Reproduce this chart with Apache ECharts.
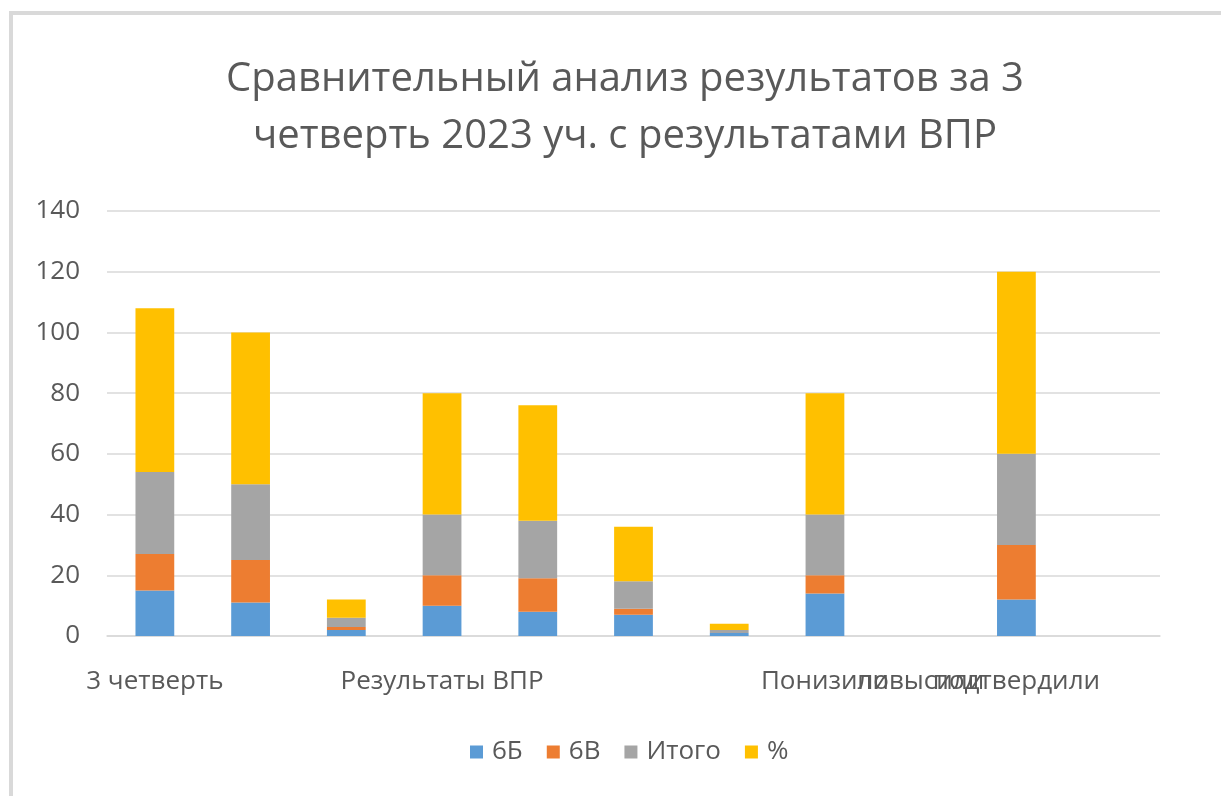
<!DOCTYPE html>
<html>
<head>
<meta charset="utf-8">
<script src="https://cdn.jsdelivr.net/npm/echarts@6/dist/echarts.min.js"></script>
<style>
  html, body { margin: 0; padding: 0; background: #ffffff; }
  #frame {
    position: absolute; left: 9px; top: 11px; right: 0; bottom: 0;
    border-top: 4px solid #d9d9d9; border-left: 4px solid #d9d9d9;
    pointer-events: none;
  }
  #chart { position: absolute; left: 0; top: 0; width: 1221px; height: 796px; }
</style>
</head>
<body>
<div id="chart"></div>
<div id="frame"></div>
<script>
// Categories along the x axis (unnamed columns stay blank)
const categories = ['3 четверть', '', '', 'Результаты ВПР', '', '', '', 'Понизили', 'повысили', 'подтвердили', ''];

// Stacked series values per category
const class6B = [15, 11, 2, 10, 8, 7, 1, 14, null, 12, null];
const class6V = [12, 14, 1, 10, 11, 2, 0, 6, null, 18, null];
const total   = [27, 25, 3, 20, 19, 9, 1, 20, null, 30, null];
const percent = [54, 50, 6, 40, 38, 18, 2, 40, null, 60, null];

const seriesNames = ['6Б', '6В', 'Итого', '%'];
const seriesColors = ['#5b9bd5', '#ed7d31', '#a5a5a5', '#ffc000'];
const seriesData = [class6B, class6V, total, percent];

const FONT = 'Open Sans';
const TEXT = '#595959';

const chart = echarts.init(document.getElementById('chart'), null, { renderer: 'canvas' });

chart.setOption({
  backgroundColor: 'transparent',
  animation: false,
  textStyle: { fontFamily: FONT },
  title: {
    text: 'Сравнительный анализ результатов за 3\nчетверть 2023 уч. с результатами ВПР',
    left: 620,
    textAlign: 'center',
    top: 46,
    textStyle: { fontFamily: FONT, fontSize: 40, fontWeight: 'normal', color: TEXT, lineHeight: 57 }
  },
  legend: {
    data: seriesNames,
    left: 465,
    top: 734,
    itemWidth: 13,
    itemHeight: 13,
    itemGap: 24,
    icon: 'rect',
    textStyle: { fontFamily: FONT, fontSize: 26, color: TEXT, padding: [0, 0, 0, 4] }
  },
  grid: { left: 107, right: 61, top: 211, bottom: 160 },
  xAxis: {
    type: 'category',
    data: categories,
    axisLine: { lineStyle: { color: '#d9d9d9', width: 1.5 } },
    axisTick: { show: false },
    axisLabel: { interval: 0, margin: 33, fontFamily: FONT, fontSize: 26, color: TEXT }
  },
  yAxis: {
    type: 'value',
    min: 0,
    max: 140,
    interval: 20,
    axisLine: { show: false },
    axisTick: { show: false },
    splitLine: { lineStyle: { color: '#d9d9d9', width: 1.5 } },
    axisLabel: { margin: 27, fontFamily: FONT, fontSize: 26, color: TEXT }
  },
  series: seriesNames.map((name, i) => ({
    name,
    type: 'bar',
    stack: 'all',
    data: seriesData[i],
    barWidth: '40.5%',
    itemStyle: { color: seriesColors[i] }
  }))
});
</script>
</body>
</html>
